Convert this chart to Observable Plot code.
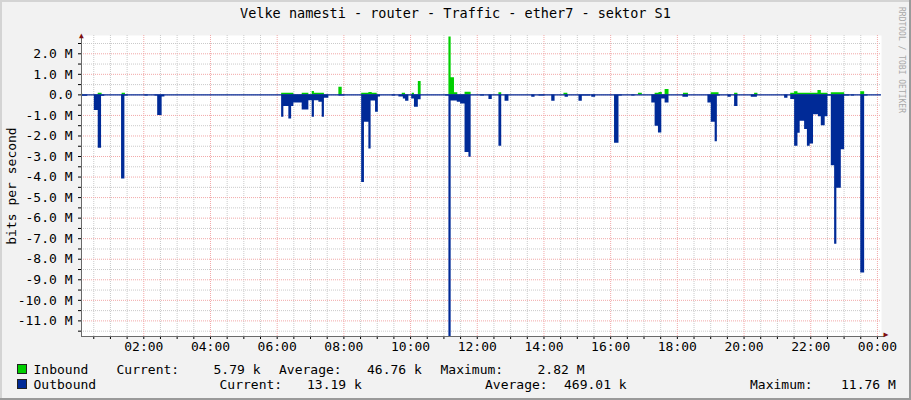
<!DOCTYPE html>
<html>
<head>
<meta charset="utf-8">
<script src="https://cdn.jsdelivr.net/npm/d3@7"></script>
<script src="https://cdn.jsdelivr.net/npm/@observablehq/plot@0.6"></script>
<style>
  html, body { margin: 0; padding: 0; background: #f2f2f2; }
  #wrap { position: relative; width: 911px; height: 400px; background: #f2f2f2; overflow: hidden;
          font-family: "DejaVu Sans Mono", monospace; color: #000; box-sizing: border-box; }
  #wrap .edgeR { position: absolute; right: 0; top: 0; width: 2px; height: 400px; background: #9a9a9a; }
  #wrap .edgeB { position: absolute; left: 0; bottom: 0; height: 2px; width: 911px; background: #9a9a9a; }
  #wrap .edgeL { position: absolute; left: 0; top: 0; width: 2px; height: 400px; background: #d4d4d4; }
  #wrap .edgeT { position: absolute; left: 0; top: 0; height: 2px; width: 911px; background: #d4d4d4; }
  .title { position: absolute; left: 0; width: 911px; top: 7px; text-align: center; font-size: 13.5px; line-height: 13.5px; white-space: pre; }
  .ylab { position: absolute; left: 11px; top: 186px; transform: translate(-50%, -50%) rotate(-90deg); font-size: 13px; line-height: 13px; white-space: pre; }
  .wm { position: absolute; left: 901px; top: 60px; transform: translate(-50%, -50%) rotate(90deg); font-size: 8px; line-height: 8px; color: #a8a8a8; white-space: pre; }
  .lg { position: absolute; font-size: 13px; line-height: 13px; white-space: pre; }
  .sq { position: absolute; width: 8px; height: 8px; border: 1px solid #222; }
  #chart { position: absolute; left: 0; top: 25px; }
  #chart svg { overflow: visible; }
</style>
</head>
<body>
<div id="wrap">
  <div class="edgeL"></div><div class="edgeT"></div><div class="edgeR"></div><div class="edgeB"></div>
  <div class="title" id="title"></div>
  <div class="ylab" id="ylab"></div>
  <div class="wm" id="wm"></div>
  <div id="chart"></div>
  <div id="legend"></div>
</div>
<script>
// ---- Text ----
const titleText = "Velke namesti - router - Traffic - ether7 - sektor S1";
const yAxisLabel = "bits per second";
const watermark = "RRDTOOL / TOBI OETIKER";

// ---- Axis ticks ----
const xTickHours = [2, 4, 6, 8, 10, 12, 14, 16, 18, 20, 22, 24];
const xTickLabels = ["02:00","04:00","06:00","08:00","10:00","12:00","14:00","16:00","18:00","20:00","22:00","00:00"];
const yTickValues = [2, 1, 0, -1, -2, -3, -4, -5, -6, -7, -8, -9, -10, -11];
const yTickLabels = ["2.0 M","1.0 M","0.0","-1.0 M","-2.0 M","-3.0 M","-4.0 M","-5.0 M","-6.0 M","-7.0 M","-8.0 M","-9.0 M","-10.0 M","-11.0 M"];

// ---- Series (time of change, bits per second in M); step values ----
const inbound = [
  ["00:08",0.05],["00:10",0],
  ["00:38",0.08],["00:45",0],
  ["01:21",0.08],["01:27",0],
  ["06:08",0.08],["06:30",0],
  ["06:45",0.08],["06:57",0],["07:03",0.16],["07:07",0.08],["07:25",0],
  ["07:51",0.37],["07:57",0],
  ["08:32",0.08],["08:45",0.12],["08:51",0.08],["09:00",0],
  ["09:45",0.08],["09:51",0],
  ["10:03",0.08],["10:07",0],["10:14",0.65],["10:19",0],
  ["11:09",2.82],["11:13",0.83],["11:19",0.1],["11:25",0],
  ["11:38",0.13],["11:49",0],
  ["12:39",0.1],["12:44",0],
  ["14:36",0.08],["14:43",0],
  ["16:50",0.08],["16:57",0],
  ["17:20",0.08],["17:27",0.12],["17:33",0],["17:38",0.26],["17:45",0],
  ["18:11",0.08],["18:20",0],
  ["19:01",0.1],["19:15",0],
  ["19:43",0.08],["19:49",0],
  ["20:19",0.08],["20:25",0],
  ["21:24",0.08],["21:31",0.15],["21:37",0.08],["22:13",0.21],["22:19",0.08],["22:31",0],
  ["22:37",0.1],["23:01",0],
  ["23:30",0.15],["23:37",0],
  ["24:07",0]
];
const outbound = [
  ["00:08",1.9],["00:09",0.07],["00:19",0],
  ["00:31",0.76],["00:38",2.6],["00:44",0.07],["00:50",0],
  ["01:20",4.1],["01:26",0.06],["01:32",0],
  ["02:02",0.05],["02:08",0],
  ["02:20",0.06],["02:25",1.0],["02:33",0.1],["02:38",0],
  ["06:08",1.09],["06:12",0.57],["06:21",1.17],["06:26",0.57],["06:30",0.4],["06:45",0.73],["06:57",0.28],["07:03",1.09],["07:07",0.28],["07:15",0.36],["07:21",1.09],["07:25",0.16],["07:33",0],
  ["07:51",0.06],["08:02",0],
  ["08:32",4.26],["08:37",1.33],["08:45",2.63],["08:49",0.3],["08:57",0.85],["09:02",0.1],["09:06",0],
  ["09:27",0.06],["09:33",0],
  ["09:39",0.1],["09:47",0.2],["09:51",0.31],["09:57",0],
  ["10:02",0.2],["10:07",0.6],["10:14",0.24],["10:19",0],
  ["11:03",0.06],["11:09",11.76],["11:13",0.3],["11:24",0.36],["11:30",0.44],["11:38",2.8],["11:45",3.04],["11:49",0],
  ["12:06",0.06],["12:13",0],
  ["12:21",0.23],["12:27",0],
  ["12:39",2.5],["12:44",0],
  ["12:50",0.31],["12:57",0],
  ["13:38",0.11],["13:44",0],
  ["13:51",0.06],["14:02",0],
  ["14:14",0.31],["14:20",0],
  ["14:38",0.11],["14:44",0],
  ["15:03",0.31],["15:09",0.05],["15:24",0],
  ["15:26",0.11],["15:33",0],
  ["16:07",2.36],["16:15",0.06],["16:21",0],
  ["16:38",0.06],["16:44",0],
  ["17:14",0.4],["17:20",1.53],["17:26",1.85],["17:32",0.2],["17:38",0.4],["17:45",0],
  ["18:10",0.11],["18:20",0],
  ["18:55",0.4],["19:01",1.33],["19:08",2.28],["19:12",0.06],["19:17",0],
  ["19:31",0.11],["19:37",0],
  ["19:43",0.57],["19:49",0],
  ["20:13",0.11],["20:24",0],
  ["21:13",0.16],["21:19",0],
  ["21:24",0.23],["21:31",2.5],["21:37",1.87],["21:41",1.28],["21:49",1.69],["21:54",2.5],["21:59",2.39],["22:05",0.97],["22:14",1.06],["22:19",1.5],["22:26",1.06],["22:31",0.06],
  ["22:37",3.45],["22:43",7.27],["22:47",4.55],["22:55",2.67],["23:01",0.06],["23:10",0],
  ["23:13",0.06],["23:19",0],
  ["23:30",8.67],["23:37",0.06],["23:43",0],
  ["24:07",0]
];

// ---- Legend values ----
const legendNames = ["Inbound", "Outbound"];
const legendColors = ["#00cf00", "#002a97"];
const inboundStats = ["5.79 k", "46.76 k", "2.82 M"];
const outboundStats = ["13.19 k", "469.01 k", "11.76 M"];
const statLabels = ["Current:", "Average:", "Maximum:"];

// ---- Build ----
const parseT = s => { const [h, m] = s.split(":").map(Number); return h + m / 60; };
const inData = inbound.map(([t, v]) => ({t: parseT(t), v}));
const outData = outbound.map(([t, v]) => ({t: parseT(t), v: -v}));

const xDomain = [0.132, 24.122];
const yDomain = [-11.76, 2.89];
const xLabelMap = new Map(xTickHours.map((h, i) => [h, xTickLabels[i]]));
const yLabelMap = new Map(yTickValues.map((v, i) => [v, yTickLabels[i]]));

const halfHours = d3.range(1, 49).map(i => i / 2);
const minorX = halfHours.filter(h => h % 2 !== 0);
const halfM = d3.range(-23, 6).map(i => i / 2);
const minorY = halfM.filter(v => !Number.isInteger(v));

const minorColor = "#cacaca";
const majorColor = "#f2a8a8";

const chart = Plot.plot({
  width: 911,
  height: 335,
  marginLeft: 81,
  marginRight: 30,
  marginTop: 10,
  marginBottom: 24,
  style: {background: "transparent", fontFamily: "DejaVu Sans Mono", fontSize: "13px", color: "#000"},
  x: {
    domain: xDomain,
    ticks: halfHours,
    tickFormat: h => xLabelMap.get(h) ?? "",
    tickSize: 3,
    tickPadding: 2,
    label: null
  },
  y: {
    domain: yDomain,
    clamp: true,
    ticks: halfM,
    tickFormat: v => yLabelMap.get(v) ?? "",
    tickSize: 3,
    tickPadding: 6,
    label: null
  },
  marks: [
    Plot.frame({fill: "white", stroke: null}),
    Plot.ruleX(minorX, {stroke: minorColor, strokeDasharray: "1,1"}),
    Plot.ruleY(minorY, {stroke: minorColor, strokeDasharray: "1,1"}),
    Plot.ruleX(xTickHours, {stroke: majorColor, strokeDasharray: "1,1"}),
    Plot.ruleY(yTickValues, {stroke: majorColor, strokeDasharray: "1,1"}),
    Plot.areaY(inData, {x: "t", y: "v", curve: "step-after", fill: legendColors[0]}),
    Plot.areaY(outData, {x: "t", y: "v", curve: "step-after", fill: legendColors[1]}),
    Plot.ruleY([0], {stroke: legendColors[1], strokeWidth: 1.2}),
    Plot.frame({anchor: "left", stroke: "#6a6a6a"}),
    Plot.frame({anchor: "bottom", stroke: "#6a6a6a"}),
    Plot.ruleY([yDomain[0]], {x1: xDomain[1], x2: xDomain[1] + 0.1, stroke: "#6a6a6a"}),
    Plot.text(["▲"], {x: () => xDomain[0], frameAnchor: "top", dy: -3, fontSize: 8, fill: "#7f1010"}),
    Plot.text(["▶"], {x: () => xDomain[1] + 0.1, frameAnchor: "bottom", dx: 1, fontSize: 8, fill: "#7f1010"})
  ]
});
document.getElementById("chart").appendChild(chart);

document.getElementById("title").textContent = titleText;
document.getElementById("ylab").textContent = yAxisLabel;
document.getElementById("wm").textContent = watermark;

// Legend layout
const legend = document.getElementById("legend");
const rows = [
  {top: 362.5, sqTop: 364, name: legendNames[0], color: legendColors[0], stats: inboundStats,
   pos: [116.5, 213.5, 279, 367, 440.5, 537.5]},
  {top: 377.5, sqTop: 379, name: legendNames[1], color: legendColors[1], stats: outboundStats,
   pos: [219.5, 307, 485, 564, 750, 841]}
];
rows.forEach(r => {
  const sq = document.createElement("div");
  sq.className = "sq";
  sq.style.left = "17px"; sq.style.top = r.sqTop + "px"; sq.style.background = r.color;
  legend.appendChild(sq);
  const items = [[33.5, r.name]];
  statLabels.forEach((lab, i) => { items.push([r.pos[i * 2], lab]); items.push([r.pos[i * 2 + 1], r.stats[i]]); });
  items.forEach(([x, t]) => {
    const s = document.createElement("div");
    s.className = "lg"; s.style.left = x + "px"; s.style.top = r.top + "px"; s.textContent = t;
    legend.appendChild(s);
  });
});
</script>
</body>
</html>
